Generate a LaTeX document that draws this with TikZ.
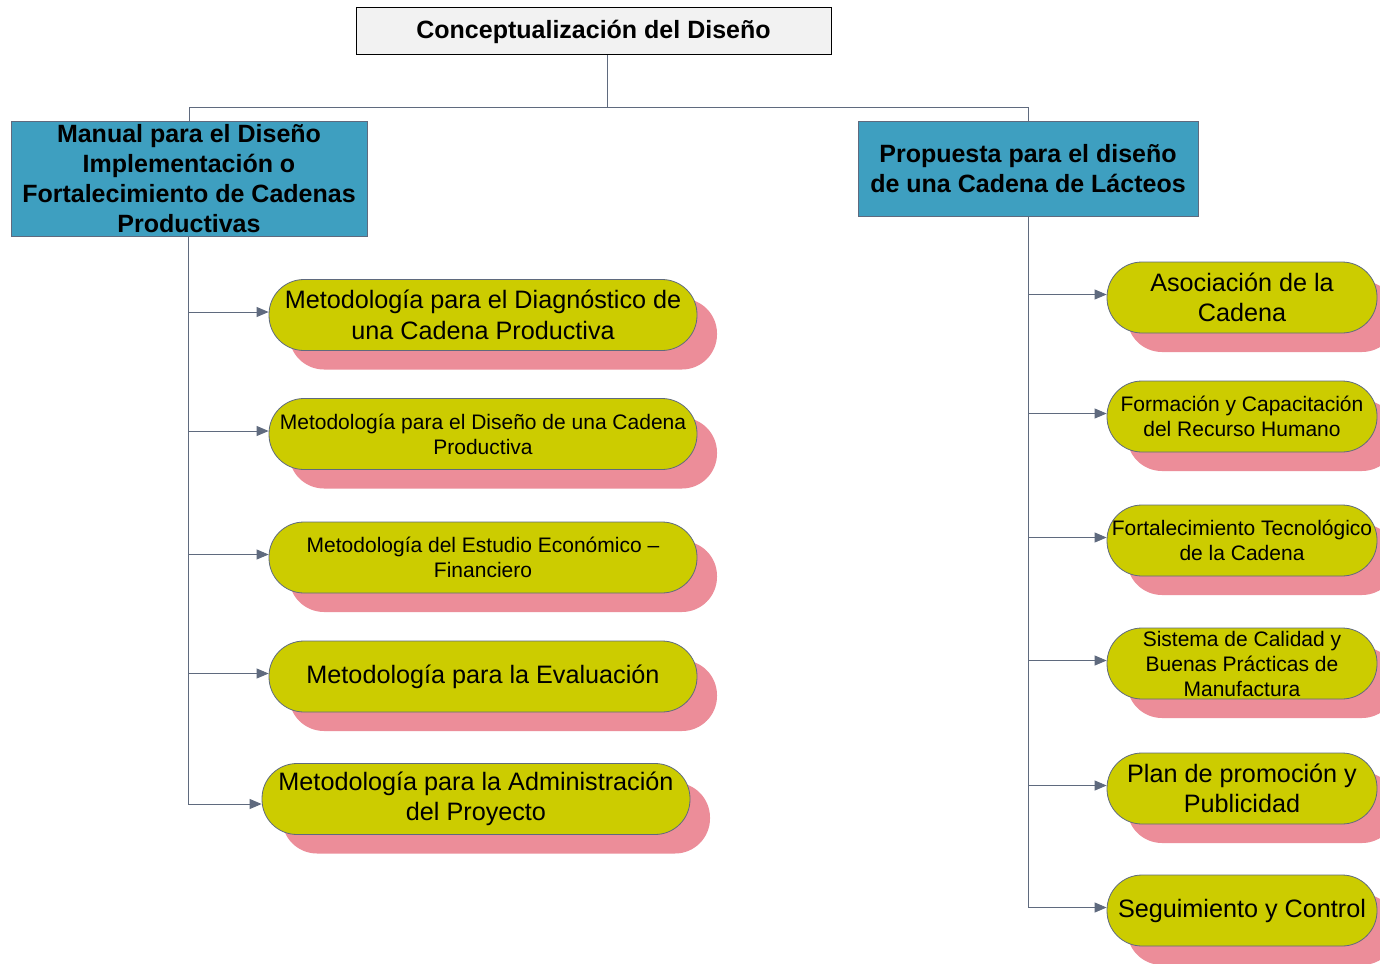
\documentclass[tikz,border=0pt]{standalone}
\usepackage{fontspec}
\setmainfont{Liberation Sans}
\usetikzlibrary{arrows.meta,shadows}
\definecolor{pillfill}{HTML}{CCCC00}
\definecolor{pillshadow}{HTML}{EC8D99}
\definecolor{linkcol}{HTML}{5F6A7E}
\definecolor{headfill}{HTML}{3E9FC0}
\definecolor{topfill}{HTML}{F2F2F2}
\tikzset{
  topbox/.style={draw=black, fill=topfill, line width=1pt, inner sep=0pt,
    minimum width=475, minimum height=47,
    font=\fontsize{25}{30}\selectfont\bfseries},
  headbox/.style={draw=linkcol, fill=headfill, line width=0.8pt, inner sep=0pt,
    align=center, font=\fontsize{25}{30}\selectfont\bfseries},
  pill/.style={draw=linkcol, fill=pillfill, line width=0.8pt, inner sep=0pt,
    rounded corners=35pt, minimum height=71, align=center,
    drop shadow={shadow xshift=20pt, shadow yshift=-19pt, fill=pillshadow, opacity=1}},
  bigtxt/.style={font=\fontsize{25.2}{30.5}\selectfont},
  smalltxt/.style={font=\fontsize{21}{25}\selectfont},
  link/.style={draw=linkcol, line width=0.9pt},
  arrowlink/.style={link, -{Triangle[length=12pt,width=10pt]}}
}
\begin{document}
\begin{tikzpicture}[x=1pt,y=-1pt]
\clip (0,0) rectangle (1380,963);
\fill[white] (0,0) rectangle (1380,963);

% title and the two branch headers
\node[topbox] (top) at (593.5,31.5) {Conceptualización del Diseño};
\node[headbox, minimum width=356, minimum height=115] (lbox) at (189,178.5)
  {Manual para el Diseño\\Implementación o\\Fortalecimiento de Cadenas\\Productivas};
\node[headbox, minimum width=340, minimum height=95] (rbox) at (1028,168.5)
  {Propuesta para el diseño\\de una Cadena de Lácteos};

\coordinate (hub) at (607,107);
\draw[link] (top.south -| hub) -- (hub);
\draw[link] (hub) -| (lbox.north);
\draw[link] (hub) -| (rbox.north);

% left branch
\node[pill, bigtxt, minimum width=428] (l1) at (483,315)
  {Metodología para el Diagnóstico de\\una Cadena Productiva};
\node[pill, smalltxt, minimum width=428] (l2) at (483,434)
  {Metodología para el Diseño de una Cadena\\Productiva};
\node[pill, smalltxt, minimum width=428] (l3) at (483,557.5)
  {Metodología del Estudio Económico --\\Financiero};
\node[pill, bigtxt, minimum width=428] (l4) at (483,676.5)
  {Metodología para la Evaluación};
\node[pill, bigtxt, minimum width=428] (l5) at (476,799)
  {Metodología para la Administración\\del Proyecto};

% right branch
\node[pill, bigtxt, minimum width=270] (r1) at (1242,297.5)
  {Asociación de la\\Cadena};
\node[pill, smalltxt, minimum width=270] (r2) at (1242,416.5)
  {Formación y Capacitación\\del Recurso Humano};
\node[pill, smalltxt, minimum width=270] (r3) at (1242,540.5)
  {Fortalecimiento Tecnológico\\de la Cadena};
\node[pill, smalltxt, minimum width=270] (r4) at (1242,663.5)
  {Sistema de Calidad y\\Buenas Prácticas de\\Manufactura};
\node[pill, bigtxt, minimum width=270] (r5) at (1242,788.5)
  {Plan de promoción y\\Publicidad};
\node[pill, bigtxt, minimum width=270] (r6) at (1242,910.5)
  {Seguimiento y Control};

% connectors from the branch headers to their items
\foreach \n in {l1,l2,l3,l4}
  \draw[arrowlink] ([xshift=-1pt]lbox.south) |- ([yshift=3pt]\n.west);
\draw[arrowlink] ([xshift=-1pt]lbox.south) |- ([yshift=-5pt]l5.west);
\foreach \n in {r1,r2,r3,r4,r5,r6}
  \draw[arrowlink] (rbox.south) |- ([yshift=3pt]\n.west);
\end{tikzpicture}
\end{document}
